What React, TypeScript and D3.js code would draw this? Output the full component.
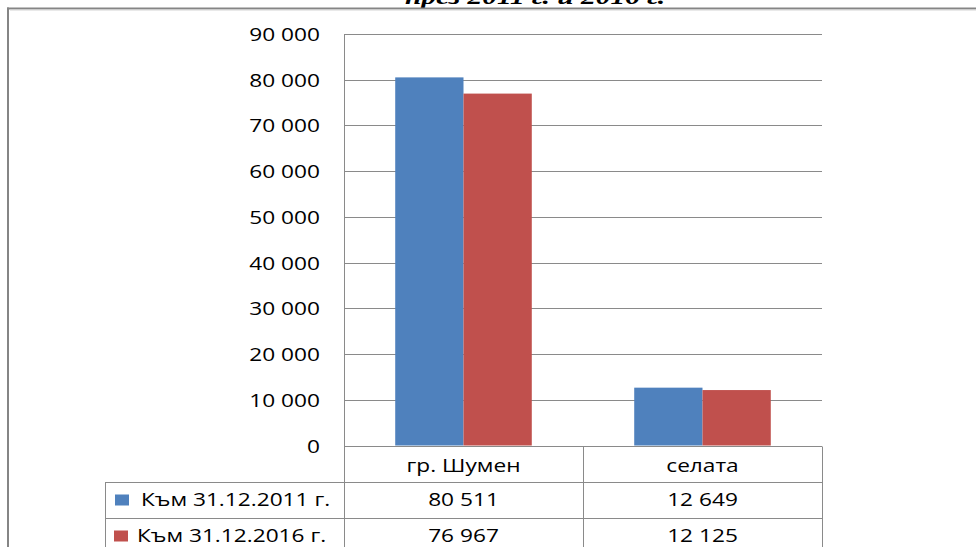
import { useEffect, useRef } from 'react';
import * as d3 from 'd3';

const categories = ['гр. Шумен', 'селата'];
const seriesNames = ['Към 31.12.2011 г.', 'Към 31.12.2016 г.'];
const values2011 = [80511, 12649];
const values2016 = [76967, 12125];
const seriesColors = ['#4F81BD', '#C0504D'];
const yTicks = [0, 10000, 20000, 30000, 40000, 50000, 60000, 70000, 80000, 90000];
const titleText = 'през 2011 г. и 2016 г.';

const FONT = '"Open Sans", "DejaVu Sans", sans-serif';
const SX = 1.26; // the original text is stretched horizontally

export default function App() {
  const svgRef = useRef<SVGSVGElement>(null);

  useEffect(() => {
    if (!svgRef.current) return;
    const svg = d3.select(svgRef.current);
    svg.selectAll('*').remove();

    const plot = { left: 344, right: 822, top: 34, bottom: 445.5 };
    const rowH = 36;
    const legendLeft = 105;
    const gridColor = '#8a8a8a';

    const fmt = d3.formatLocale({ decimal: ',', thousands: ' ', grouping: [3], currency: ['', ''] }).format(',d');

    // helper for horizontally stretched text
    const stretched = (x: number, y: number, str: string, anchor: string) =>
      svg
        .append('g')
        .attr('transform', `translate(${x},${y}) scale(${SX},1)`)
        .append('text')
        .attr('text-anchor', anchor)
        .attr('font-family', FONT)
        .attr('font-size', 18)
        .attr('fill', '#000')
        .text(str);

    svg.append('rect').attr('width', 976).attr('height', 547).attr('fill', '#fff');

    // Title (cut off at top)
    svg
      .append('text')
      .attr('x', 535)
      .attr('y', 4)
      .attr('text-anchor', 'middle')
      .attr('font-family', '"Liberation Serif", serif')
      .attr('font-weight', 'bold')
      .attr('font-style', 'italic')
      .attr('font-size', 22)
      .attr('textLength', 260)
      .attr('lengthAdjust', 'spacingAndGlyphs')
      .text(titleText);

    // Outer frame
    svg.append('line').attr('x1', 7).attr('x2', 976).attr('y1', 8.5).attr('y2', 8.5).attr('stroke', '#858585').attr('stroke-width', 2);
    svg.append('line').attr('x1', 10).attr('x2', 976).attr('y1', 10).attr('y2', 10).attr('stroke', '#d4d4d4').attr('stroke-width', 1);
    svg.append('line').attr('x1', 8).attr('x2', 8).attr('y1', 7.5).attr('y2', 547).attr('stroke', '#858585').attr('stroke-width', 2);

    // Scales
    const yScale = d3.scaleLinear().domain([0, 90000]).range([plot.bottom, plot.top]);
    const x0 = d3.scaleBand().domain(categories).range([plot.left, plot.right]).padding(0);
    const x1 = d3
      .scaleBand()
      .domain(seriesNames)
      .range([0, x0.bandwidth()])
      .paddingInner(0)
      .paddingOuter(0.75);

    // Gridlines
    svg
      .append('g')
      .selectAll('line')
      .data(yTicks)
      .enter()
      .append('line')
      .attr('x1', plot.left)
      .attr('x2', plot.right)
      .attr('y1', (d) => Math.round(yScale(d)) + 0.5)
      .attr('y2', (d) => Math.round(yScale(d)) + 0.5)
      .attr('stroke', gridColor)
      .attr('stroke-width', 1);

    // Y labels
    yTicks.forEach((t) => {
      stretched(320, yScale(t) + 7, t === 0 ? '0' : fmt(t), 'end');
    });

    // Bars
    const seriesValues = [values2011, values2016];
    seriesNames.forEach((s, si) => {
      svg
        .append('g')
        .selectAll('rect')
        .data(categories)
        .enter()
        .append('rect')
        .attr('x', (c) => (x0(c) as number) + (x1(s) as number))
        .attr('y', (_, i) => yScale(seriesValues[si][i]))
        .attr('width', x1.bandwidth())
        .attr('height', (_, i) => plot.bottom - yScale(seriesValues[si][i]))
        .attr('fill', seriesColors[si]);
    });

    // Data table lines
    const tableTop = Math.round(plot.bottom) + 0.5;
    const row1 = tableTop + rowH;
    const row2 = row1 + rowH;
    const tbl = svg.append('g').attr('stroke', gridColor).attr('stroke-width', 1);
    tbl.append('line').attr('x1', plot.left).attr('x2', plot.right).attr('y1', tableTop).attr('y2', tableTop);
    tbl.append('line').attr('x1', legendLeft).attr('x2', plot.right).attr('y1', row1).attr('y2', row1);
    tbl.append('line').attr('x1', legendLeft).attr('x2', plot.right).attr('y1', row2).attr('y2', row2);
    tbl.append('line').attr('x1', legendLeft + 0.5).attr('x2', legendLeft + 0.5).attr('y1', row1).attr('y2', 547);
    [plot.left, ...categories.map((c) => (x0(c) as number) + x0.bandwidth())].forEach((x) => {
      const xx = Math.round(x) + 0.5;
      tbl.append('line').attr('x1', xx).attr('x2', xx).attr('y1', x === plot.left ? plot.top : tableTop).attr('y2', 547);
    });

    // Header row
    categories.forEach((c) => {
      stretched((x0(c) as number) + x0.bandwidth() / 2, tableTop + 25.5, c, 'middle');
    });

    // Series rows
    seriesNames.forEach((s, si) => {
      const top = row1 + si * rowH;
      svg
        .append('rect')
        .attr('x', 115 - si)
        .attr('y', top + 12)
        .attr('width', 14)
        .attr('height', 11)
        .attr('fill', seriesColors[si]);
      stretched(141 - si * 4, top + 23.5, s, 'start');
      categories.forEach((c, ci) => {
        stretched((x0(c) as number) + x0.bandwidth() / 2, top + 23.5, fmt(seriesValues[si][ci]), 'middle');
      });
    });
  }, []);

  return (
    <svg
      ref={svgRef}
      width={976}
      height={547}
      style={{ position: 'absolute', left: 0, top: 0, display: 'block' }}
    />
  );
}
